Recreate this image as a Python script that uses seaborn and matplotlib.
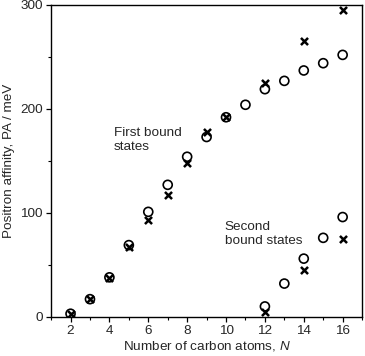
import numpy as np
import pandas as pd
import matplotlib
matplotlib.use("Agg")
import matplotlib.pyplot as plt
from matplotlib.ticker import MultipleLocator
import seaborn as sns

# first bound states
n_first = [2, 3, 4, 5, 6, 7, 8, 9, 10, 11, 12, 13, 14, 15, 16]
pa_first_circ = [3, 17, 38, 69, 101, 127, 154, 173, 192, 204, 219, 227, 237, 244, 252]
n_first_x = [2, 3, 4, 5, 6, 7, 8, 9, 10, 12, 14, 16]
pa_first_x = [3, 17, 37, 67, 93, 117, 148, 178, 192, 225, 265, 295]

# second bound states
n_second = [12, 13, 14, 15, 16]
pa_second_circ = [10, 32, 56, 76, 96]
n_second_x = [12, 14, 16]
pa_second_x = [5, 45, 75]

circ = pd.DataFrame({"N": n_first + n_second, "PA": pa_first_circ + pa_second_circ})
cross = pd.DataFrame({"N": n_first_x + n_second_x, "PA": pa_first_x + pa_second_x})

sns.set_style("ticks")
plt.rcParams["font.family"] = ["Liberation Sans", "DejaVu Sans"]
plt.rcParams["font.size"] = 9.7
plt.rcParams["mathtext.fontset"] = "custom"
plt.rcParams["mathtext.rm"] = "Liberation Sans"
plt.rcParams["mathtext.it"] = "Liberation Sans:italic"

fig, ax = plt.subplots(figsize=(3.65, 3.56), dpi=100)
fig.subplots_adjust(left=0.14, right=0.992, top=0.986, bottom=0.11)

sns.scatterplot(data=circ, x="N", y="PA", ax=ax, marker="o", s=42,
                facecolor="none", edgecolor="black", linewidth=1.2, zorder=3)
sns.scatterplot(data=cross, x="N", y="PA", ax=ax, marker="x", s=26,
                color="black", linewidth=1.8, zorder=4)

ax.set_xlim(1, 17)
ax.set_ylim(0, 300)
ax.xaxis.set_major_locator(MultipleLocator(2))
ax.xaxis.set_minor_locator(MultipleLocator(1))
ax.yaxis.set_major_locator(MultipleLocator(100))
ax.yaxis.set_minor_locator(MultipleLocator(50))
ax.tick_params(which="major", length=3.5, width=0.9, color="black", labelsize=9.7, pad=2.5)
ax.tick_params(which="minor", length=2.5, width=0.8, color="black")
for sp in ax.spines.values():
    sp.set_visible(True)
    sp.set_color("black")
    sp.set_linewidth(1.0)

ax.set_xlabel("Number of carbon atoms, $\\it{N}$", fontsize=9.7, labelpad=1.5)
ax.set_ylabel("Positron affinity, PA / meV", fontsize=9.7, labelpad=4)

ax.text(4.22, 183, "First bound\nstates", fontsize=9.7, va="top", ha="left", linespacing=1.25)
ax.text(9.94, 92, "Second\nbound states", fontsize=9.7, va="top", ha="left", linespacing=1.25)

fig.savefig("out.png", dpi=100)
